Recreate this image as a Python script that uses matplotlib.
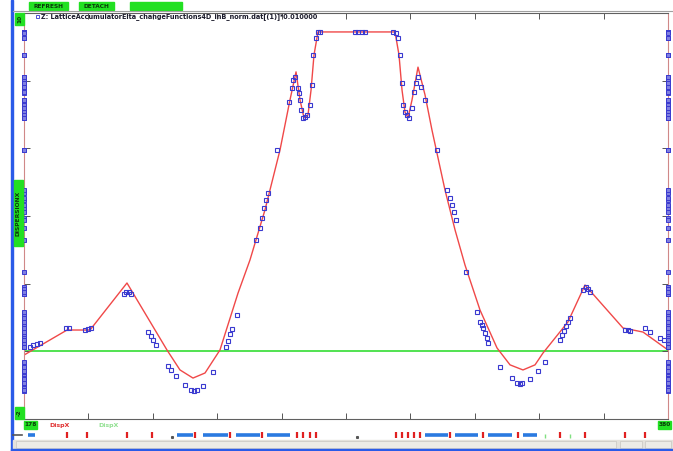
import matplotlib
matplotlib.use("Agg")
import matplotlib.pyplot as plt
from matplotlib.patches import Rectangle

# ---------------- data ----------------
# model curve (red line): lattice position vs dispersion
model_s = [0.0, 6.68, 10.25, 15.99, 22.20, 24.22, 26.24, 28.11, 30.43, 33.23, 35.09,
           37.42, 39.75, 41.30, 42.24, 42.86, 43.48, 44.10, 44.57, 45.03, 45.65,
           57.61, 58.23, 58.70, 59.16, 59.63, 60.25, 61.18, 62.27, 63.35, 65.37,
           66.93, 68.48, 70.81, 73.45, 75.47, 77.48, 79.35, 80.59, 84.47, 87.11,
           93.01, 96.12, 100.0]
model_d = [-0.11, 0.63, 0.63, 2.02, 0.04, -0.55, -0.79, -0.64, 0.04, 1.72, 2.70,
           4.18, 5.95, 7.43, 8.26, 7.43, 6.90, 6.99, 7.72, 8.76, 9.44,
           9.44, 8.76, 7.72, 7.07, 6.90, 7.43, 8.40, 7.58, 6.54, 4.77,
           3.59, 2.55, 1.22, 0.10, -0.40, -0.55, -0.40, -0.05, 0.87, 1.96,
           0.69, 0.57, 0.04]

# measured dispersion (blue squares)
meas_s = [0.93, 1.40, 2.02, 2.48, 6.52, 6.99, 9.47, 9.94, 10.40, 15.53, 15.84, 16.30,
          16.61, 19.25, 19.72, 20.03, 20.50, 22.36, 22.83, 23.60, 25.00, 25.93, 26.40,
          26.86, 27.80, 29.35, 31.37, 31.68, 31.99, 32.30, 33.07, 36.02, 36.65, 36.96,
          37.27, 37.58, 37.89, 39.29, 41.15, 41.61, 41.77, 42.08, 42.55, 42.70, 42.86,
          43.01, 43.32, 43.63, 43.94, 44.41, 44.72, 44.88, 45.34, 45.65, 45.96, 51.40,
          51.86, 52.48, 52.95, 57.30, 57.76, 58.07, 58.39, 58.70, 58.85, 59.16, 59.47,
          59.78, 60.25, 60.56, 60.87, 61.18, 61.65, 62.27, 64.13, 65.68, 66.15, 66.46,
          66.77, 67.08, 68.63, 70.34, 70.81, 71.12, 71.27, 71.58, 71.89, 72.05, 73.91,
          75.78, 76.55, 77.02, 77.33, 78.57, 79.81, 80.90, 83.23, 83.54, 83.85, 84.16,
          84.47, 84.78, 86.80, 87.27, 87.58, 87.89, 93.32, 93.79, 94.10, 96.43, 97.20,
          98.76, 99.38]
meas_d = [0.13, 0.19, 0.22, 0.25, 0.69, 0.69, 0.63, 0.66, 0.69, 1.69, 1.75, 1.75,
          1.69, 0.57, 0.45, 0.34, 0.19, -0.43, -0.55, -0.73, -1.00, -1.14, -1.17,
          -1.14, -1.03, -0.61, 0.13, 0.30, 0.51, 0.66, 1.07, 3.29, 3.65, 3.94,
          4.24, 4.47, 4.68, 5.95, 7.37, 7.78, 8.02, 8.11, 7.78, 7.64, 7.43,
          7.13, 6.90, 6.93, 6.99, 7.28, 7.87, 8.76, 9.26, 9.44, 9.44, 9.44,
          9.44, 9.44, 9.44, 9.44, 9.41, 9.26, 8.76, 7.93, 7.28, 7.07, 6.99,
          6.90, 7.19, 7.66, 7.93, 8.11, 7.81, 7.43, 5.95, 4.77, 4.53, 4.33,
          4.12, 3.88, 2.34, 1.16, 0.87, 0.78, 0.69, 0.54, 0.39, 0.25, -0.46,
          -0.79, -0.94, -0.97, -0.94, -0.82, -0.58, -0.32, 0.33, 0.48, 0.60, 0.75,
          0.87, 0.99, 1.81, 1.90, 1.84, 1.75, 0.63, 0.63, 0.60, 0.69, 0.57,
          0.39, 0.33]

reference_level = 0.0
y_min, y_max = -2, 10
s_min, s_max = 0, 100

# lattice elements
dipole_start = [0.62, 23.76, 27.80, 32.92, 37.73, 62.27, 66.93, 72.05, 77.48]
dipole_end = [1.71, 26.24, 31.68, 36.65, 41.30, 65.84, 70.50, 75.78, 79.66]
quad_s = [6.68, 9.78, 15.99, 19.88, 26.55, 31.99, 36.96, 42.39, 43.32, 44.41, 45.34,
          57.76, 58.70, 59.63, 60.56, 61.49, 66.15, 71.27, 76.71, 83.23, 87.11,
          93.32, 96.43]
monitor_s = [22.98, 51.71]
corrector_s = [80.90, 84.78]

# ---------------- figure ----------------
W, H = 673, 451
fig = plt.figure(figsize=(W / 100, H / 100), dpi=100)
fig.patch.set_facecolor("white")


def rect(l, t, r, b):
    return [l / W, 1 - b / H, (r - l) / W, (b - t) / H]


GREEN = "#22e022"
BLUE_WIN = "#2a5be8"

# ---------------- main plot ----------------
ax = fig.add_axes(rect(24, 13, 668, 419))
ax.patch.set_visible(False)
ax.set_xlim(s_min, s_max)
ax.set_ylim(y_min, y_max)
ax.axhline(reference_level, color="#33dd33", lw=1.2, zorder=1)
ax.plot(model_s, model_d, color="#f04848", lw=1.0, zorder=2)
ax.plot(meas_s, meas_d, linestyle="none", marker="s", markersize=3.4,
        markerfacecolor="none", markeredgecolor="#3a3ad0", markeredgewidth=0.8, zorder=3)
# projections on both vertical axes
ax.plot([s_min] * len(meas_d), meas_d, linestyle="none", marker="s", markersize=3.2,
        markerfacecolor="#8080e0", markeredgecolor="#3a3ad0", markeredgewidth=0.7,
        clip_on=False, zorder=4)
ax.plot([s_max] * len(meas_d), meas_d, linestyle="none", marker="s", markersize=3.2,
        markerfacecolor="#8080e0", markeredgecolor="#3a3ad0", markeredgewidth=0.7,
        clip_on=False, zorder=4)

ax.set_xticks(range(s_min, s_max + 1, 10))
ax.set_yticks(range(y_min, y_max + 1, 2))
ax.tick_params(axis="both", which="both", direction="in", length=4, width=0.7,
               color="#555555", top=True, right=True, labelbottom=False, labelleft=False)
for side in ("top", "bottom"):
    ax.spines[side].set_color("#606060")
    ax.spines[side].set_linewidth(0.8)
for side in ("left", "right"):
    ax.spines[side].set_color("#d08888")
    ax.spines[side].set_linewidth(0.8)

# window chrome (overlay axes in pixel coordinates)
chrome = fig.add_axes([0, 0, 1, 1], zorder=5)
chrome.patch.set_visible(False)
chrome.set_xlim(0, W)
chrome.set_ylim(H, 0)
chrome.axis("off")
chrome.add_patch(Rectangle((11, 0), 2, H, color=BLUE_WIN))
chrome.plot([13, W], [11, 11], color="#a0a0a0", lw=0.8)
chrome.add_patch(Rectangle((13, 440), W - 13, 9, color="#e4e2dc"))
chrome.add_patch(Rectangle((16, 441), 600, 7, facecolor="#ecebe6", edgecolor="#c8c6c0", lw=0.5))
chrome.add_patch(Rectangle((620, 441), 22, 7, facecolor="#ecebe6", edgecolor="#c8c6c0", lw=0.5))
chrome.add_patch(Rectangle((645, 441), 26, 7, facecolor="#ecebe6", edgecolor="#c8c6c0", lw=0.5))
chrome.add_patch(Rectangle((11, 449), W - 11, 2, color=BLUE_WIN))
chrome.plot([13, 22], [435, 435], color="#555555", lw=1.2)

# top buttons
chrome.add_patch(Rectangle((29, 2), 39, 8, color=GREEN))
chrome.text(48.5, 6.2, "REFRESH", fontsize=4.2, fontweight="bold", color="#0a3a0a",
            ha="center", va="center")
chrome.add_patch(Rectangle((79, 2), 35, 8, color=GREEN))
chrome.text(96.5, 6.2, "DETACH", fontsize=4.2, fontweight="bold", color="#0a3a0a",
            ha="center", va="center")
chrome.add_patch(Rectangle((130, 2), 52, 8, color=GREEN))

# title
chrome.add_patch(Rectangle((36, 15), 3, 3, facecolor="none", edgecolor="#3333cc", lw=0.6))
chrome.text(41, 16.8, "Z: LatticeAccumulatorElta_changeFunctions4D_inB_norm.dat[(1)]*0.010000",
            fontsize=4.7, fontweight="bold", color="#1a1a2a", ha="left", va="center")

# axis end labels
chrome.add_patch(Rectangle((15, 13), 9, 12, color=GREEN))
chrome.text(19.5, 19, str(y_max), fontsize=4.2, fontweight="bold", rotation=90,
            ha="center", va="center", color="#0a3a0a")
chrome.add_patch(Rectangle((15, 407), 9, 12, color=GREEN))
chrome.text(19.5, 413, str(y_min), fontsize=4.2, fontweight="bold", rotation=90,
            ha="center", va="center", color="#0a3a0a")
chrome.add_patch(Rectangle((14, 180), 9, 66, color=GREEN))
chrome.text(18.5, 213, "DISPERSIONX", fontsize=4.3, fontweight="bold", rotation=90,
            ha="center", va="center", color="#0a3a0a")
chrome.add_patch(Rectangle((24, 421), 13, 8, color=GREEN))
chrome.text(30.5, 425, "178", fontsize=4.2, fontweight="bold", ha="center", va="center",
            color="#0a3a0a")
chrome.text(49, 425, "DispX", fontsize=4.5, fontweight="bold", ha="left", va="center",
            color="#e03030")
chrome.text(98, 425, "DispX", fontsize=4.5, fontweight="bold", ha="left", va="center",
            color="#90e090")
chrome.add_patch(Rectangle((658, 421), 13, 8, color=GREEN))
chrome.text(664.5, 425, "380", fontsize=4.2, fontweight="bold", ha="center", va="center",
            color="#0a3a0a")

# ---------------- lattice row ----------------
lat = fig.add_axes(rect(24, 430, 668, 440))
lat.set_xlim(s_min, s_max)
lat.set_ylim(-1, 1)
lat.axis("off")
for a, b in zip(dipole_start, dipole_end):
    lat.plot([a, b], [0, 0], color="#2a7ae0", lw=2.6, solid_capstyle="butt")
lat.plot(quad_s, [0.1] * len(quad_s), linestyle="none", marker="|", markersize=5,
         markeredgewidth=1.6, color="#e02020")
lat.plot(monitor_s, [-0.3] * len(monitor_s), linestyle="none", marker="s", markersize=1.2,
         color="#555555")
lat.plot(corrector_s, [-0.2] * len(corrector_s), linestyle="none", marker="|", markersize=3,
         markeredgewidth=1.0, color="#80e080")

fig.savefig("out.png", dpi=100, facecolor="white")
